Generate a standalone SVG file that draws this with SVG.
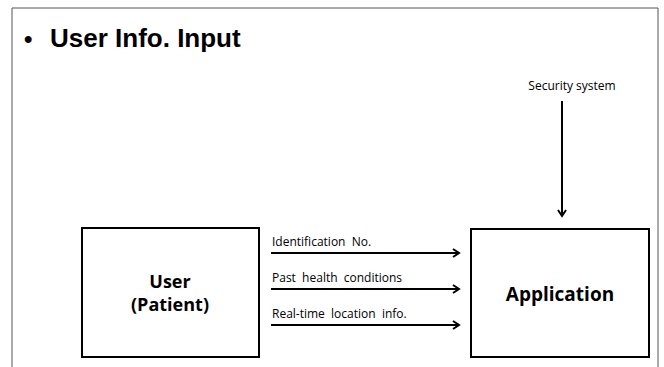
<svg xmlns="http://www.w3.org/2000/svg" width="664" height="367" viewBox="0 0 664 367">
<defs>
<style>
.box{fill:#fff;stroke:#000;stroke-width:2}
.conn{stroke:#000;stroke-width:2;fill:none;marker-end:url(#arr)}
.lbl{font-family:"Open Sans","Liberation Sans",sans-serif;font-size:12px;fill:#000;white-space:pre}
.big{font-family:"Open Sans","Liberation Sans",sans-serif;font-weight:bold;fill:#000;text-anchor:middle}
</style>
<marker id="arr" markerWidth="10" markerHeight="10" refX="8" refY="5" orient="auto" markerUnits="userSpaceOnUse">
<polyline points="2,1 8,5 2,9" fill="none" stroke="#000" stroke-width="2"/>
</marker>
</defs>
<rect width="664" height="367" fill="#fff"/>
<path d="M12,367 V8 H658 V367" fill="none" stroke="#555" stroke-width="1"/>
<g id="title">
<text x="24" y="47" font-family="'Liberation Sans',sans-serif" font-weight="bold" font-size="24" fill="#000">•</text>
<text x="50" y="47" font-family="'Liberation Sans',sans-serif" font-weight="bold" font-size="26" fill="#000">User Info. Input</text>
</g>
<g id="user">
<rect class="box" x="82" y="228" width="177" height="129"/>
<text class="big" x="170" y="288" font-size="18">User</text>
<text class="big" x="170" y="311" font-size="18">(Patient)</text>
</g>
<g id="application">
<rect class="box" x="471" y="229" width="178" height="128"/>
<text class="big" x="560" y="301" font-size="19">Application</text>
</g>
<g id="security">
<text class="lbl" x="572" y="90" text-anchor="middle">Security system</text>
</g>
<g id="connectors">
<line class="conn" x1="562" y1="101" x2="562" y2="216"/>
<line class="conn" x1="271" y1="253" x2="459" y2="253"/>
<line class="conn" x1="271" y1="289" x2="459" y2="289"/>
<line class="conn" x1="271" y1="325" x2="459" y2="325"/>
<text class="lbl" x="272" y="246" xml:space="preserve">Identification  No.</text>
<text class="lbl" x="272" y="282" xml:space="preserve">Past  health  conditions</text>
<text class="lbl" x="272" y="318" xml:space="preserve">Real-time  location  info.</text>
</g>
</svg>
